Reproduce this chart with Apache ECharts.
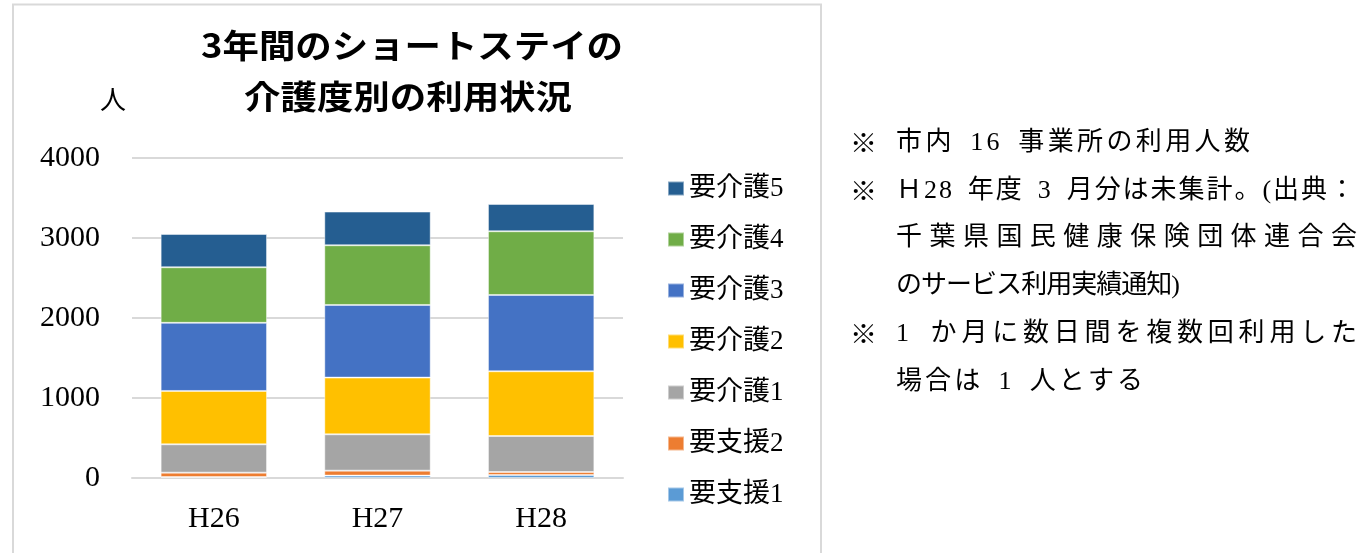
<!DOCTYPE html>
<html>
<head>
<meta charset="utf-8">
<script src="https://cdn.jsdelivr.net/npm/echarts@6/dist/echarts.min.js"></script>
<style>
html,body{margin:0;padding:0;background:#fff;}
#main{width:1360px;height:553px;}
</style>
</head>
<body>
<div id="main"></div>
<script>
// ---- data ----
const categories = ['H26', 'H27', 'H28'];
const shien1 = [12, 30, 38];
const shien2 = [55, 62, 37];
const kaigo1 = [354, 454, 450];
const kaigo2 = [667, 709, 809];
const kaigo3 = [852, 908, 954];
const kaigo4 = [694, 746, 796];
const kaigo5 = [416, 421, 341];
const seriesNames = ['要支援1', '要支援2', '要介護1', '要介護2', '要介護3', '要介護4', '要介護5'];
const seriesValues = [shien1, shien2, kaigo1, kaigo2, kaigo3, kaigo4, kaigo5];
const seriesColors = ['#5B9BD5', '#ED7D31', '#A5A5A5', '#FFC000', '#4472C4', '#70AD47', '#255E91'];
const yMin = 0, yMax = 4000, yInterval = 1000;
const titleLines = ['3年間のショートステイの', '介護度別の利用状況'];
const unitLabel = '人';
const notes = [
  {mark: true,  text: '市内 16 事業所の利用人数'},
  {mark: true,  text: 'Ｈ28 年度 3 月分は未集計。(出典：'},
  {mark: false, text: '千葉県国民健康保険団体連合会'},
  {mark: false, text: 'のサービス利用実績通知)'},
  {mark: true,  text: '1 か月に数日間を複数回利用した'},
  {mark: false, text: '場合は 1 人とする'}
];

// ---- layout helpers ----
const FF = "'Liberation Serif','Noto Sans CJK JP'";
const mctx = document.createElement('canvas').getContext('2d');
function measure(t, font) { mctx.font = font; return mctx.measureText(t).width; }
function justifyLine(text, font, x0, x1, yc, spaceW) {
  const chars = Array.from(text);
  const w = chars.map(c => c === ' ' ? spaceW : measure(c, font));
  const nat = w.reduce((a, b) => a + b, 0);
  const extra = chars.length > 1 ? (x1 - x0 - nat) / (chars.length - 1) : 0;
  let x = x0; const els = [];
  chars.forEach((c, i) => {
    if (c.trim()) els.push({type: 'text', x: x, y: yc, silent: true,
      style: {text: c, font: font, fill: '#000', textAlign: 'left', textVerticalAlign: 'middle', verticalAlign: 'middle'}});
    x += w[i] + extra;
  });
  return els;
}
function stretchLine(text, font, x0, x1, yc) {
  const s = (x1 - x0) / measure(text, font);
  return {type: 'text', x: x0, y: yc, scaleX: s, originX: 0, originY: 0, silent: true,
    style: {text: text, font: font, fill: '#000', textAlign: 'left', textVerticalAlign: 'middle', verticalAlign: 'middle'}};
}

const graphics = [];
graphics.push({type: 'rect', silent: true, shape: {x: 13, y: 4.5, width: 808, height: 600},
  style: {fill: 'none', stroke: '#d9d9d9', lineWidth: 2}});
const titleFont = "bold 33px 'Noto Sans CJK JP'";
graphics.push(stretchLine(titleLines[0], titleFont, 201, 623, 45));
graphics.push(stretchLine(titleLines[1], titleFont, 244, 572, 96));
graphics.push({type: 'text', x: 113, y: 102, silent: true,
  style: {text: unitLabel, font: "26px " + FF, fill: '#000', textAlign: 'center', textVerticalAlign: 'middle', verticalAlign: 'middle'}});

const noteFont = "26px " + FF;
const noteY = [143, 191, 238, 286, 334, 382];
const noteEnd = [1250, 1355, 1357, 1180, 1357, 1143];
notes.forEach((n, i) => {
  if (n.mark) graphics.push({type: 'text', x: 850, y: noteY[i], silent: true,
    style: {text: '※', font: "27px 'Noto Sans CJK JP'", fill: '#000', textAlign: 'left', textVerticalAlign: 'middle', verticalAlign: 'middle'}});
  justifyLine(n.text, noteFont, 896, noteEnd[i], noteY[i], 12).forEach(e => graphics.push(e));
});

const chart = echarts.init(document.getElementById('main'));
chart.setOption({
  backgroundColor: '#fff',
  animation: false,
  grid: {left: 132, right: 737, top: 158, bottom: 75, containLabel: false},
  legend: {
    data: seriesNames.slice().reverse(),
    orient: 'vertical', left: 667, top: 175, padding: 0,
    itemWidth: 16, itemHeight: 14, itemGap: 24, icon: 'rect',
    textStyle: {fontSize: 27, lineHeight: 27, fontFamily: FF, color: '#000'}
  },
  xAxis: {
    type: 'category', data: categories,
    axisLine: {lineStyle: {color: '#d9d9d9', width: 2}},
    axisTick: {show: false},
    axisLabel: {fontSize: 30, fontFamily: FF, color: '#000', margin: 26}
  },
  yAxis: {
    type: 'value', min: yMin, max: yMax, interval: yInterval,
    axisLine: {show: false}, axisTick: {show: false},
    splitLine: {lineStyle: {color: '#d9d9d9', width: 2}},
    axisLabel: {fontSize: 30, fontFamily: FF, color: '#000', margin: 32, formatter: v => String(v)}
  },
  series: seriesNames.map((name, i) => ({
    name: name, type: 'bar', stack: 'total', data: seriesValues[i],
    barCategoryGap: '35%',
    itemStyle: {color: seriesColors[i], borderColor: 'rgba(255,255,255,0.45)', borderWidth: 1}
  })),
  graphic: graphics
});
</script>
</body>
</html>
